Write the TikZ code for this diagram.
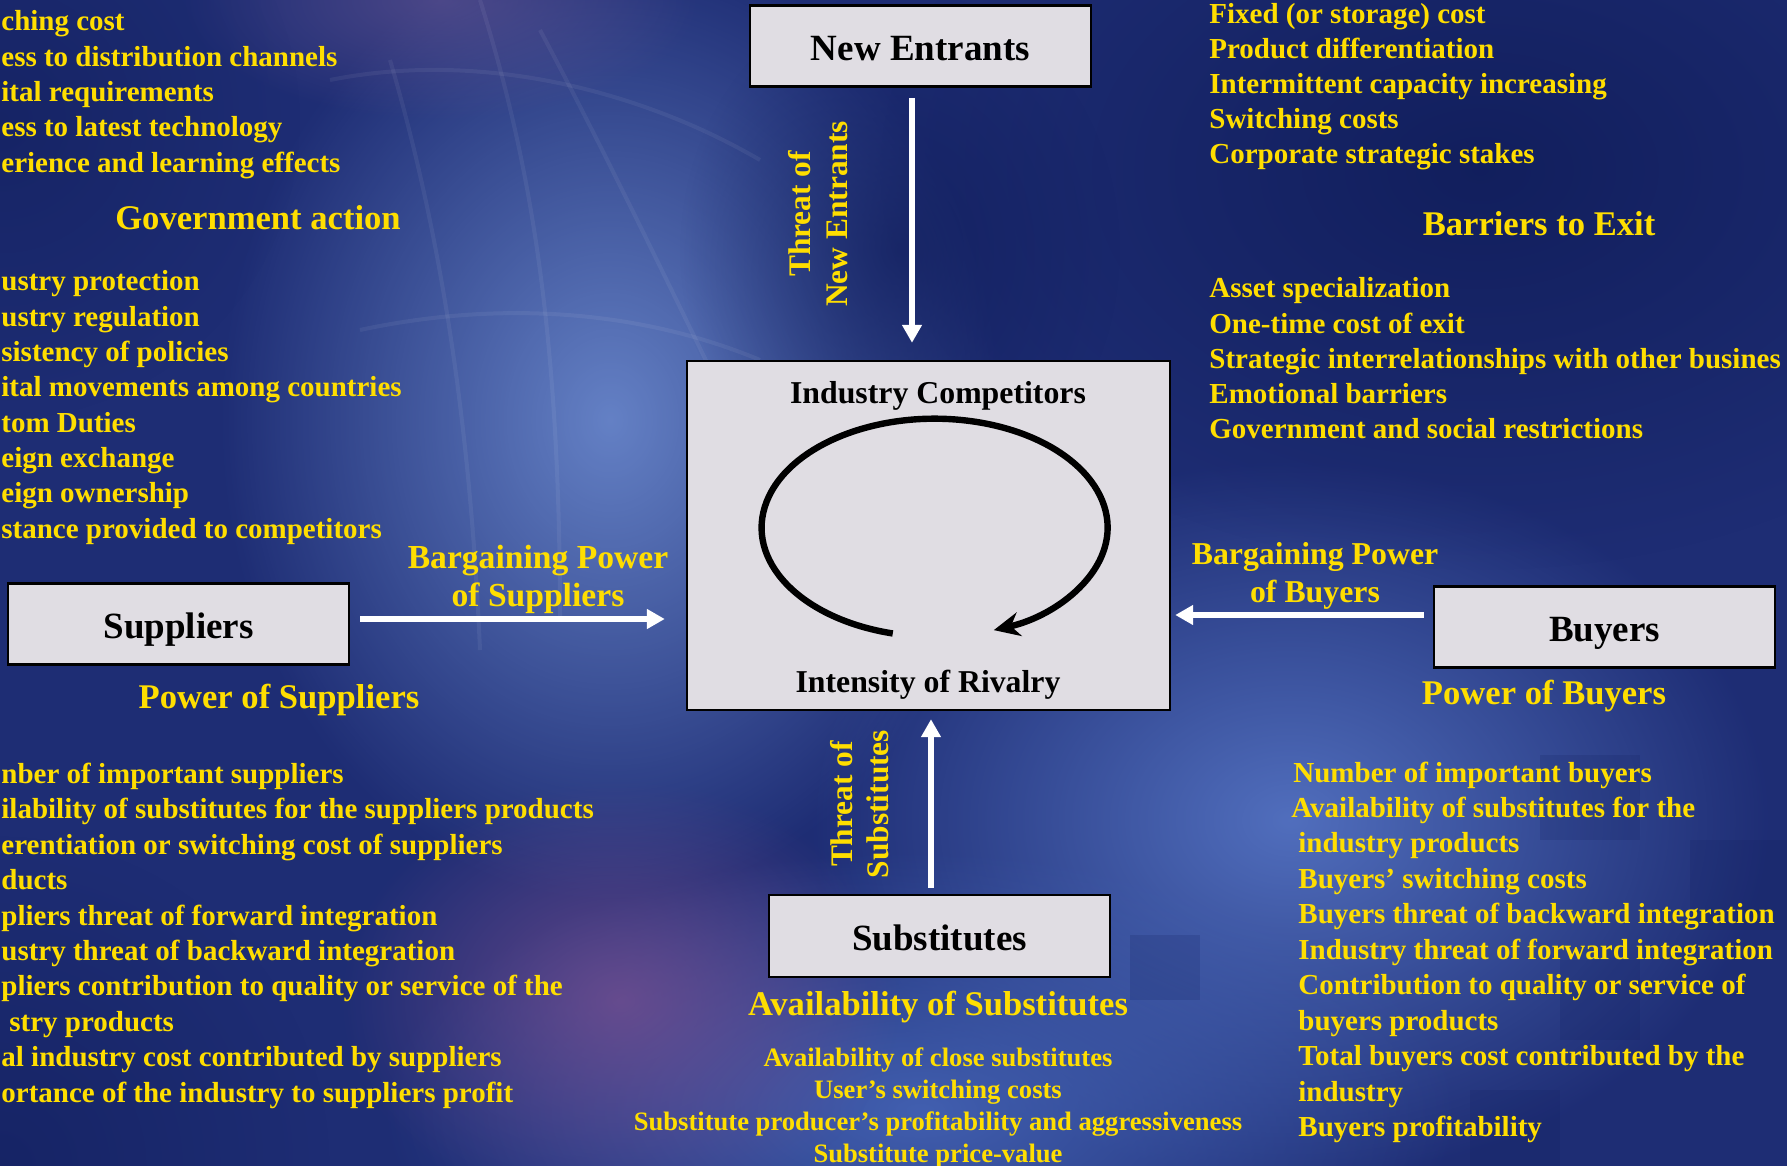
\documentclass[tikz,border=0pt]{standalone}
\usepackage{fontspec}
\setmainfont{Liberation Serif}
\usetikzlibrary{arrows.meta,fadings}

\definecolor{bgbase}{RGB}{30,45,116}
\definecolor{glowblue}{RGB}{108,138,206}
\definecolor{glowblue2}{RGB}{90,122,202}
\definecolor{midblue}{RGB}{72,104,186}
\definecolor{glowpurple}{RGB}{128,82,146}
\definecolor{toppurple}{RGB}{112,92,152}
\definecolor{deepnavy}{RGB}{17,30,92}
\definecolor{boxfill}{RGB}{224,221,227}
\definecolor{gold}{RGB}{255,222,0}

\tikzfading[name=softspot, inner color=transparent!0, outer color=transparent!100]

\begin{document}
\begin{tikzpicture}[x=0.5pt, y=-0.5pt,
  every node/.style={font=\bfseries},
  spot/.style={fill=#1, path fading=softspot},
  globe/.style={draw=white, draw opacity=0.06, line width=2pt},
  tile/.style={fill=deepnavy, fill opacity=0.18},
  box/.style={draw=black, line width=1.2pt, fill=boxfill, inner sep=0pt,
    minimum width=170.5pt, minimum height=40.5pt, text height=14pt, text depth=0pt,
    font=\bfseries\fontsize{18.5}{22}\selectfont},
  mainbox/.style={draw=black, line width=1.2pt, fill=boxfill, inner sep=0pt,
    minimum width=241.5pt, minimum height=174.5pt},
  boxlabel/.style={font=\bfseries\fontsize{15.9}{19}\selectfont, inner sep=0pt,
    text height=11pt, text depth=0pt},
  heading/.style={text=gold, inner sep=0pt, font=\bfseries\fontsize{17.3}{21}\selectfont},
  item/.style={text=gold, inner sep=0pt, anchor=west, text height=10.2pt, text depth=3.2pt,
    font=\bfseries\fontsize{14.5}{17.6}\selectfont},
  subitem/.style={text=gold, inner sep=0pt, text height=9.4pt, text depth=2.9pt,
    font=\bfseries\fontsize{13.3}{16}\selectfont},
  force/.style={text=gold, inner sep=0pt, align=center},
  warrow/.style={draw=white, line width=2.6pt, -{Triangle[length=9pt,width=9.5pt]}},
  rival/.style={draw=black, line width=3.2pt, -{Stealth[length=13pt,width=12pt]}}
]
\useasboundingbox (0,0) rectangle (1787,1166);

% ---------- background ----------
\fill[bgbase] (0,0) rectangle (1787,1166);
\begin{scope}
  \clip (0,0) rectangle (1787,1166);
  \fill[spot=glowblue, fill opacity=0.9] (610,420) ellipse [x radius=390, y radius=480];
  \fill[spot=glowblue2, fill opacity=0.85] (1290,820) ellipse [x radius=480, y radius=360];
  \fill[spot=midblue, fill opacity=0.85] (920,1110) ellipse [x radius=540, y radius=260];
  \fill[spot=glowpurple, fill opacity=0.7] (620,1000) ellipse [x radius=280, y radius=220];
  \fill[spot=toppurple, fill opacity=0.55] (440,0) ellipse [x radius=260, y radius=120];
  \fill[spot=deepnavy, fill opacity=0.95] (1480,170) ellipse [x radius=600, y radius=400];
  \fill[spot=deepnavy, fill opacity=0.7] (900,250) ellipse [x radius=220, y radius=260];
  \fill[spot=deepnavy, fill opacity=0.6] (0,1166) ellipse [x radius=330, y radius=330];
  \fill[spot=deepnavy, fill opacity=0.6] (0,120) ellipse [x radius=300, y radius=300];
  % faint globe meridians and parallels
  \draw[globe] (480,0) .. controls (530,160) and (560,330) .. (560,620);
  \draw[globe] (390,60) .. controls (440,230) and (470,420) .. (480,650);
  \draw[globe] (330,80) .. controls (480,50) and (640,90) .. (760,160);
  \draw[globe] (360,330) .. controls (500,300) and (640,310) .. (760,360);
  \draw[globe] (540,30) .. controls (620,180) and (690,330) .. (760,470);
  % translucent tiles
  \fill[tile] (1540,755) rectangle (1640,840);
  \fill[tile] (1690,840) rectangle (1787,930);
  \fill[tile] (1130,935) rectangle (1200,1000);
  \fill[tile] (1470,1090) rectangle (1560,1166);
  \fill[tile] (1560,960) rectangle (1640,1040);
\end{scope}

% ---------- the five forces ----------
\node[box] (ne)  at (920.4,46.2) {New Entrants};
\node[box] (sup) at (178.5,624)  {Suppliers};
\node[box] (buy) at (1604.5,627) {Buyers};
\node[box, minimum height=41pt] (sub) at (939.5,936) {Substitutes};
\node[mainbox] (main) at (928.5,535.5) {};
\node[boxlabel] (ic) at (938,392) {Industry Competitors};
\node[boxlabel] (ir) at (928,681) {Intensity of Rivalry};

% rivalry loop
\coordinate (rc) at (934.6,527.7);
\draw[rival] (rc) ++(104:173 and 109) arc[start angle=104, end angle=430, x radius=173, y radius=109];

% ---------- connectors ----------
\coordinate (nex) at (912,0);
\coordinate (sy)  at (0,619);
\coordinate (by)  at (0,615);
\coordinate (sx)  at (931,0);
\draw[warrow, shorten <=5pt, shorten >=8.5pt] (ne.south -| nex) -- (main.north -| nex);
\draw[warrow, shorten <=5pt, shorten >=10.5pt] (sup.east |- sy) -- (main.west |- sy);
\draw[warrow, shorten <=4.5pt, shorten >=2pt] (buy.west |- by) -- (main.east |- by);
\draw[warrow, shorten <=3pt, shorten >=4pt] (sub.north -| sx) -- (main.south -| sx);

% ---------- force labels ----------
\node[force, rotate=90, font=\bfseries\fontsize{15.7}{18.3}\selectfont] (tne) at (818,214) {Threat of\\New Entrants};
\node[force, rotate=90, font=\bfseries\fontsize{15.7}{18.3}\selectfont] (tsu) at (859.5,804) {Threat of\\Substitutes};
\node[force, font=\bfseries\fontsize{16.8}{19}\selectfont] (bps) at (538,579.5) {Bargaining Power\\of Suppliers};
\node[force, font=\bfseries\fontsize{15.9}{18.8}\selectfont] (bpb) at (1315,576) {Bargaining Power\\of Buyers};

% ---------- headings ----------
\node[heading] (hga) at (258,217.5) {Government action};
\node[heading] (hbe) at (1539,224)  {Barriers to Exit};
\node[heading] (hps) at (279,699.5) {Power of Suppliers};
\node[heading] (hpb) at (1544,696.5) {Power of Buyers};
\node[heading] (has) at (938,1007.5) {Availability of Substitutes};

% ---------- lists ----------
\foreach \t [count=\i] in {ching cost, ess to distribution channels, ital requirements,
  ess to latest technology, erience and learning effects}
  \node[item, name=en\i] at (1,{24+35.3*(\i-1)}) {\t};

\foreach \t [count=\i] in {ustry protection, ustry regulation, sistency of policies,
  ital movements among countries, tom Duties, eign exchange, eign ownership,
  stance provided to competitors}
  \node[item, name=ga\i] at (1,{283.9+35.33*(\i-1)}) {\t};

\foreach \t [count=\i] in {Fixed (or storage) cost, Product differentiation,
  Intermittent capacity increasing, Switching costs, Corporate strategic stakes}
  \node[item, name=ri\i] at (1209,{16.5+35.0*(\i-1)}) {\t};

\foreach \t [count=\i] in {Asset specialization, One-time cost of exit,
  Strategic interrelationships with other busines, Emotional barriers,
  Government and social restrictions}
  \node[item, name=ex\i] at (1209,{290.7+35.3*(\i-1)}) {\t};

\foreach \xx/\t [count=\i] in {1/nber of important suppliers,
  1/ilability of substitutes for the suppliers products,
  1/erentiation or switching cost of suppliers, 1/ducts,
  1/pliers threat of forward integration, 1/ustry threat of backward integration,
  1/pliers contribution to quality or service of the, 9/stry products,
  1/al industry cost contributed by suppliers,
  1/ortance of the industry to suppliers profit}
  \node[item, name=su\i] at (\xx,{776.2+35.46*(\i-1)}) {\t};

\foreach \xx/\t [count=\i] in {1293/Number of important buyers,
  1291/Availability of substitutes for the, 1298/industry products,
  1298/Buyers’ switching costs, 1298/Buyers threat of backward integration,
  1298/Industry threat of forward integration,
  1298/Contribution to quality or service of, 1298/buyers products,
  1298/Total buyers cost contributed by the, 1298/industry,
  1298/Buyers profitability}
  \node[item, name=bu\i] at (\xx,{775.1+35.44*(\i-1)}) {\t};

\foreach \t [count=\i] in {Availability of close substitutes, User’s switching costs,
  Substitute producer’s profitability and aggressiveness, Substitute price-value}
  \node[subitem, name=sb\i] at (938,{1060+31.9*(\i-1)}) {\t};
\end{tikzpicture}
\end{document}
